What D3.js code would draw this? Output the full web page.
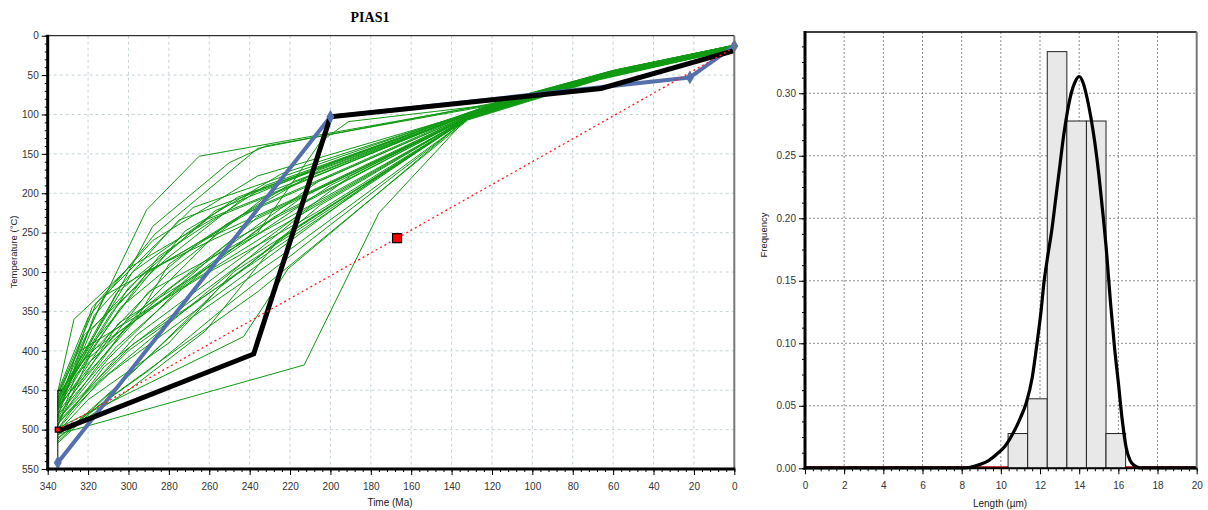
<!DOCTYPE html>
<html>
<head>
<meta charset="utf-8">
<script src="https://cdn.jsdelivr.net/npm/d3@7"></script>
<style>
  body { margin: 0; background: #fff; }
  svg { display: block; font-family: "Liberation Sans", Arial, sans-serif; }
</style>
</head>
<body>
<svg id="chart" width="1208" height="510"></svg>
<script>
// ---------- Thermal history (time-temperature paths) ----------
const timeTicks = [340, 320, 300, 280, 260, 240, 220, 200, 180, 160, 140, 120, 100, 80, 60, 40, 20, 0];
const tempTicks = [0, 50, 100, 150, 200, 250, 300, 350, 400, 450, 500, 550];

// Acceptable-fit paths: [time Ma, temperature °C]
const goodPaths = [
  [[335,455],[291,221],[265,153],[122,88],[60,44],[0,12]],
  [[335,468],[288,242],[250,161],[232,140],[124,90],[61,45],[0,13]],
  [[335,498],[243,382],[221,296],[130,100],[64,52],[0,16]],
  [[335,506],[213,418],[176,225],[131,101],[66,54],[0,16]],
  [[335,482],[317,355],[275,234],[127,96],[62,49],[0,14]],
  [[335,462],[306,327],[261,233],[125,93],[61,47],[0,14]],
  [[335,452],[320,358],[287,252],[236,143],[120,86],[58,43],[0,12]],
  [[335,475],[310,380],[250,262],[128,98],[63,50],[0,15]],
  [[335,490],[300,400],[240,290],[205,215],[131,103],[65,52],[0,15]],
  [[335,515],[295,420],[255,320],[215,240],[132,106],[67,55],[0,17]],
  [[335,470],[325,420],[280,300],[228,196],[126,95],[62,48],[0,14]],
  [[335,500],[315,440],[268,340],[210,218],[129,100],[63,50],[0,15]],
  [[335,458],[298,300],[246,205],[123,90],[60,45],[0,13]],
  [[335,465],[312,330],[270,270],[218,185],[126,94],[61,47],[0,14]],
  [[335,485],[305,365],[258,290],[200,190],[128,98],[63,49],[0,14]],
  [[335,495],[318,400],[285,340],[236,230],[130,102],[65,52],[0,16]],
  [[335,510],[300,450],[262,375],[226,260],[132,105],[66,54],[0,16]],
  [[335,478],[293,345],[252,240],[205,170],[126,95],[62,48],[0,14]],
  [[335,460],[322,380],[282,285],[240,200],[124,92],[61,46],[0,13]],
  [[335,488],[310,410],[275,322],[230,250],[129,100],[64,50],[0,15]],
  [[335,472],[290,325],[236,250],[205,135],[191,109],[121,88],[59,44],[0,12]],
  [[335,503],[320,462],[280,390],[248,300],[131,104],[66,53],[0,16]],
  [[335,455],[316,340],[268,218],[122,89],[59,44],[0,12]],
  [[335,467],[304,345],[265,262],[212,200],[127,96],[62,48],[0,14]],
  [[335,493],[296,380],[238,270],[190,178],[130,101],[64,51],[0,15]],
  [[335,476],[318,372],[292,300],[222,215],[128,97],[63,49],[0,15]],
  [[335,458],[285,280],[232,190],[124,91],[60,45],[0,13]],
  [[335,512],[308,450],[270,360],[222,275],[132,106],[67,55],[0,17]],
  [[335,484],[324,400],[260,300],[208,226],[129,100],[64,51],[0,15]],
  [[335,463],[300,320],[257,222],[198,160],[123,90],[60,45],[0,13]],
  [[335,499],[312,420],[284,365],[242,285],[131,103],[65,52],[0,16]],
  [[335,470],[296,360],[280,290],[244,228],[126,95],[62,47],[0,14]],
  [[335,452],[327,360],[300,295],[258,232],[125,92],[61,46],[0,13]],
  [[335,481],[306,395],[266,305],[228,230],[128,99],[63,49],[0,15]],
  [[335,507],[290,425],[250,340],[200,240],[131,104],[66,54],[0,16]],
  [[335,466],[316,385],[272,248],[224,175],[125,93],[61,47],[0,14]],
  [[335,489],[302,372],[244,262],[214,205],[129,100],[64,50],[0,15]],
  [[335,474],[318,345],[288,260],[236,178],[126,95],[62,48],[0,14]],
  [[335,496],[326,430],[294,355],[252,275],[130,102],[65,52],[0,16]],
  [[335,459],[308,350],[290,300],[234,215],[124,91],[60,46],[0,13]],
  [[335,517],[315,470],[276,398],[236,325],[132,107],[67,56],[0,17]],
  [[335,486],[298,392],[262,330],[216,250],[129,99],[64,50],[0,15]],
  [[335,472],[320,410],[278,318],[206,185],[127,96],[62,48],[0,14]],
  [[335,492],[310,430],[246,310],[180,185],[130,102],[65,52],[0,16]]
];

// Best-fit path, weighted mean path, and the initial linear path
const bestPath = [[335,502],[238,404],[200,103],[66,67],[0,19]];
const meanPath = [[335,542],[200,103],[22,53],[0,13]];
const linearPath = [[335,500],[167,257],[0,15]];
const linearMarks = [[335,500,5],[167,257,9]];   // time, temperature, square size

// Start constraint: time, min temperature, max temperature
const startBox = [335, 450, 540];

// ---------- Track length distribution ----------
const lengthTicks = [0, 2, 4, 6, 8, 10, 12, 14, 16, 18, 20];
const freqTicks = [0, 0.05, 0.10, 0.15, 0.20, 0.25, 0.30];
const binStarts = [10.37, 11.37, 12.37, 13.37, 14.37, 15.37];
const binWidth = 1.0;
const binFreqs = [0.0278, 0.0556, 0.3333, 0.2778, 0.2778, 0.0278];

// Modelled length distribution: [length µm, frequency]
const modelCurve = [
  [0,0],[8.2,0],[8.6,0.001],[9.0,0.003],[9.4,0.006],[9.8,0.011],[10.2,0.017],
  [10.6,0.027],[11.0,0.040],[11.3,0.052],[11.6,0.072],[11.85,0.100],[12.05,0.125],
  [12.2,0.148],[12.4,0.170],[12.6,0.190],[12.8,0.215],[13.0,0.240],[13.2,0.265],
  [13.4,0.285],[13.6,0.300],[13.8,0.309],[14.0,0.313],[14.2,0.308],[14.4,0.296],
  [14.6,0.280],[14.8,0.260],[15.0,0.235],[15.2,0.205],[15.4,0.172],[15.6,0.132],
  [15.8,0.097],[16.0,0.068],[16.2,0.038],[16.4,0.016],[16.6,0.006],[16.8,0.002],
  [17.1,0],[20,0]
];

// ---------- Drawing ----------
const svg = d3.select("#chart");
const tickColor = "#333";

// ===== Left panel =====
const L = { left: 47.7, right: 734.3, top: 35.7, bottom: 469 };
const x = d3.scaleLinear().domain([340, 0]).range([L.left, L.right]);
const y = d3.scaleLinear().domain([0, 550]).range([L.top, L.bottom]);

svg.append("text")
  .attr("x", 370).attr("y", 22)
  .attr("text-anchor", "middle")
  .style("font-family", "'Liberation Serif', 'Times New Roman', serif")
  .style("font-weight", "bold").style("font-size", "14px")
  .text("PIAS1");

const gl = svg.append("g");

// grid
gl.append("g").selectAll("line").data(timeTicks.filter(t => t !== 340 && t !== 0)).join("line")
  .attr("x1", d => x(d)).attr("x2", d => x(d)).attr("y1", L.top).attr("y2", L.bottom)
  .attr("stroke", "#c6d4d8").attr("stroke-width", 1).attr("stroke-dasharray", "3,3");
gl.append("g").selectAll("line").data(tempTicks.filter(t => t !== 0 && t !== 550)).join("line")
  .attr("x1", L.left).attr("x2", L.right).attr("y1", d => y(d)).attr("y2", d => y(d))
  .attr("stroke", "#c6d4d8").attr("stroke-width", 1).attr("stroke-dasharray", "3,3");

const line = d3.line().x(d => x(d[0])).y(d => y(d[1]));

// acceptable paths
gl.append("g").selectAll("path").data(goodPaths).join("path")
  .attr("d", line).attr("fill", "none").attr("stroke", "#0f9a12").attr("stroke-width", 1);

// start constraint
gl.append("line")
  .attr("x1", x(startBox[0])).attr("x2", x(startBox[0]))
  .attr("y1", y(startBox[1])).attr("y2", y(startBox[2]))
  .attr("stroke", "#000").attr("stroke-width", 1);
gl.append("line")
  .attr("x1", x(startBox[0])).attr("x2", x(startBox[0]) + 4)
  .attr("y1", y(startBox[1])).attr("y2", y(startBox[1]))
  .attr("stroke", "#000").attr("stroke-width", 1);

// mean path
gl.append("path").datum(meanPath).attr("d", line)
  .attr("fill", "none").attr("stroke", "#5470ae").attr("stroke-width", 4)
  .attr("stroke-linejoin", "round");

// best path
gl.append("path").datum(bestPath).attr("d", line)
  .attr("fill", "none").attr("stroke", "#000").attr("stroke-width", 5)
  .attr("stroke-linejoin", "miter");

// linear path
gl.append("path").datum(linearPath).attr("d", line)
  .attr("fill", "none").attr("stroke", "#ff1a1a").attr("stroke-width", 1.3)
  .attr("stroke-dasharray", "2,3");

// mean-path diamonds
const diamond = d3.symbol().type(d3.symbolDiamond).size(55);
gl.append("g").selectAll("path").data(meanPath).join("path")
  .attr("transform", d => `translate(${x(d[0])},${y(d[1])})`)
  .attr("d", diamond).attr("fill", "#5470ae");

// linear-path squares
gl.append("g").selectAll("rect").data(linearMarks).join("rect")
  .attr("x", d => x(d[0]) - d[2] / 2).attr("y", d => y(d[1]) - d[2] / 2)
  .attr("width", d => d[2]).attr("height", d => d[2])
  .attr("fill", "#ff0000").attr("stroke", "#000").attr("stroke-width", 1.2);

// frame
gl.append("line").attr("x1", L.left).attr("x2", L.right).attr("y1", L.top).attr("y2", L.top)
  .attr("stroke", "#000").attr("stroke-width", 1);
gl.append("line").attr("x1", L.right).attr("x2", L.right).attr("y1", L.top).attr("y2", L.bottom)
  .attr("stroke", "#777").attr("stroke-width", 2);

// axes
const minorX = d3.range(0, 341, 4);
const minorY = d3.range(0, 551, 10);
const axL = gl.append("g").attr("transform", `translate(${L.left},0)`);
axL.call(d3.axisLeft(y).tickValues(minorY).tickSize(3).tickFormat(""));
axL.call(g => g.select(".domain").remove());
const axL2 = gl.append("g").attr("transform", `translate(${L.left},0)`)
  .call(d3.axisLeft(y).tickValues(tempTicks).tickSize(6).tickPadding(3));
const axB = gl.append("g").attr("transform", `translate(0,${L.bottom})`);
axB.call(d3.axisBottom(x).tickValues(minorX).tickSize(3).tickFormat(""));
axB.call(g => g.select(".domain").remove());
const axB2 = gl.append("g").attr("transform", `translate(0,${L.bottom})`)
  .call(d3.axisBottom(x).tickValues(timeTicks).tickSize(6).tickPadding(8));
[axL2, axB2].forEach(a => a.select(".domain").remove());
gl.selectAll(".tick line").attr("stroke", "#000");
gl.selectAll(".tick text").style("font-size", "10px").attr("fill", tickColor)
  .style("font-family", "'Liberation Sans', Arial, sans-serif");

gl.append("line").attr("x1", L.left).attr("x2", L.left).attr("y1", L.top - 1).attr("y2", L.bottom + 1.5)
  .attr("stroke", "#000").attr("stroke-width", 3);
gl.append("line").attr("x1", L.left - 1.5).attr("x2", L.right + 1).attr("y1", L.bottom).attr("y2", L.bottom)
  .attr("stroke", "#000").attr("stroke-width", 3);

gl.append("text").attr("x", 390).attr("y", 506).attr("text-anchor", "middle")
  .style("font-size", "10px").attr("fill", "#222").text("Time (Ma)");
gl.append("text").attr("transform", "translate(17,252) rotate(-90)").attr("text-anchor", "middle")
  .style("font-size", "9.5px").attr("fill", "#222").text("Temperature (°C)");

// ===== Right panel =====
const R = { left: 805, right: 1196.7, top: 32, bottom: 468.3 };
const x2 = d3.scaleLinear().domain([0, 20]).range([R.left, R.right]);
const y2 = d3.scaleLinear().domain([0, 0.349]).range([R.bottom, R.top]);
const gr = svg.append("g");

gr.append("g").selectAll("line").data(lengthTicks.filter(t => t !== 0 && t !== 20)).join("line")
  .attr("x1", d => x2(d)).attr("x2", d => x2(d)).attr("y1", R.top).attr("y2", R.bottom)
  .attr("stroke", "#8c8c8c").attr("stroke-width", 1).attr("stroke-dasharray", "2,2");
gr.append("g").selectAll("line").data(freqTicks.filter(t => t !== 0)).join("line")
  .attr("x1", R.left).attr("x2", R.right).attr("y1", d => y2(d)).attr("y2", d => y2(d))
  .attr("stroke", "#8c8c8c").attr("stroke-width", 1).attr("stroke-dasharray", "2,2");

// zero line of the observed distribution
gr.append("line").attr("x1", x2(0)).attr("x2", x2(20)).attr("y1", y2(0) - 1).attr("y2", y2(0) - 1)
  .attr("stroke", "#b00000").attr("stroke-width", 2);

// histogram
gr.append("g").selectAll("rect").data(binStarts).join("rect")
  .attr("x", d => x2(d)).attr("width", x2(binWidth) - x2(0))
  .attr("y", (d, i) => y2(binFreqs[i])).attr("height", (d, i) => y2(0) - y2(binFreqs[i]))
  .attr("fill", "#e8e8e8").attr("stroke", "#222").attr("stroke-width", 1);

// modelled distribution
gr.append("path").datum(modelCurve)
  .attr("d", d3.line().x(d => x2(d[0])).y(d => y2(d[1]) - 0.5).curve(d3.curveMonotoneX))
  .attr("fill", "none").attr("stroke", "#000").attr("stroke-width", 3.2)
  .attr("stroke-linejoin", "round");

// frame
gr.append("line").attr("x1", R.left).attr("x2", R.right).attr("y1", R.top).attr("y2", R.top)
  .attr("stroke", "#000").attr("stroke-width", 1.5);
gr.append("line").attr("x1", R.right).attr("x2", R.right).attr("y1", R.top).attr("y2", R.bottom)
  .attr("stroke", "#777").attr("stroke-width", 2);

const ax2L = gr.append("g").attr("transform", `translate(${R.left},0)`);
ax2L.call(d3.axisLeft(y2).tickValues(d3.range(0, 0.349, 0.0125)).tickSize(3).tickFormat(""));
const ax2L2 = gr.append("g").attr("transform", `translate(${R.left},0)`)
  .call(d3.axisLeft(y2).tickValues(freqTicks).tickSize(6).tickPadding(3).tickFormat(d3.format(".2f")));
const ax2B = gr.append("g").attr("transform", `translate(0,${R.bottom})`);
ax2B.call(d3.axisBottom(x2).tickValues(d3.range(0, 20.01, 0.4)).tickSize(3).tickFormat(""));
const ax2B2 = gr.append("g").attr("transform", `translate(0,${R.bottom})`)
  .call(d3.axisBottom(x2).tickValues(lengthTicks).tickSize(6).tickPadding(8));
[ax2L, ax2L2, ax2B, ax2B2].forEach(a => a.select(".domain").remove());
gr.selectAll(".tick line").attr("stroke", "#000");
gr.selectAll(".tick text").style("font-size", "10px").attr("fill", tickColor)
  .style("font-family", "'Liberation Sans', Arial, sans-serif");

gr.append("line").attr("x1", R.left).attr("x2", R.left).attr("y1", R.top - 1).attr("y2", R.bottom + 1.5)
  .attr("stroke", "#000").attr("stroke-width", 3);
gr.append("line").attr("x1", R.left - 1.5).attr("x2", R.right).attr("y1", R.bottom).attr("y2", R.bottom)
  .attr("stroke", "#000").attr("stroke-width", 2);

gr.append("text").attr("x", 1000).attr("y", 507).attr("text-anchor", "middle")
  .style("font-size", "10px").attr("fill", "#222").text("Length (µm)");
gr.append("text").attr("transform", "translate(767,235) rotate(-90)").attr("text-anchor", "middle")
  .style("font-size", "9.5px").attr("fill", "#222").text("Frequency");
</script>
</body>
</html>
